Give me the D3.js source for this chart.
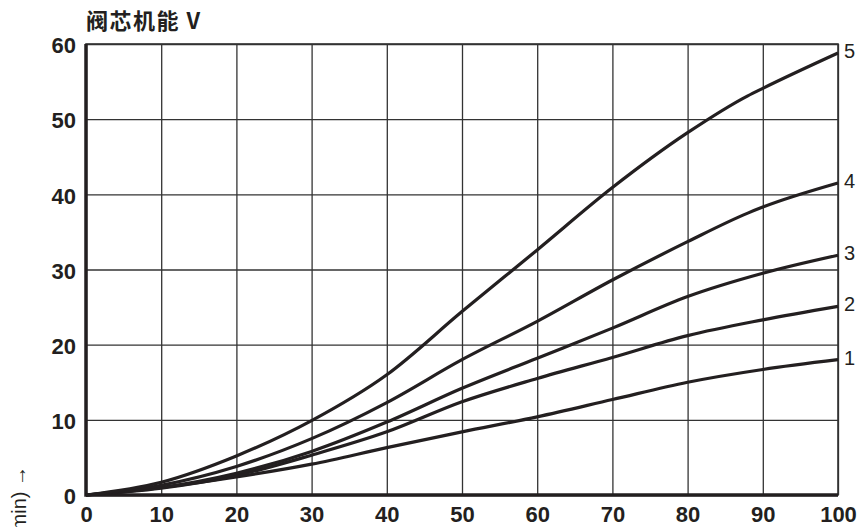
<!DOCTYPE html>
<html lang="zh">

<head>
    <meta charset="UTF-8">
    <title>阀芯机能 V</title>
    <style>
        html, body {
            margin: 0;
            padding: 0;
            background: #fff;
        }

        svg {
            display: block;
        }
    </style>
</head>

<body>
    <div id="workspace"></div>

    <script src="https://cdn.jsdelivr.net/npm/d3@7"></script>
    <script>
        // 刻度
        const xTicks = [0, 10, 20, 30, 40, 50, 60, 70, 80, 90, 100];
        const yTicks = [0, 10, 20, 30, 40, 50, 60];

        // 各曲线的横坐标（4、5 在 88 附近有转折）
        const xBase = [0, 10, 20, 30, 40, 50, 60, 70, 80, 90, 100];
        const xKink = [0, 10, 20, 30, 40, 50, 60, 70, 80, 88, 90, 100];

        // 曲线 1~5 的读数
        const curve1 = [0, 1.0, 2.4, 4.1, 6.3, 8.4, 10.4, 12.7, 15.0, 16.7, 18.0];
        const curve2 = [0, 0.9, 2.6, 5.3, 8.4, 12.4, 15.5, 18.3, 21.2, 23.3, 25.1];
        const curve3 = [0, 1.0, 2.9, 5.8, 9.7, 14.2, 18.2, 22.2, 26.4, 29.5, 31.9];
        const curve4 = [0, 1.3, 3.8, 7.5, 12.3, 18.0, 23.1, 28.6, 33.7, 37.5, 38.3, 41.5];
        const curve5 = [0, 1.7, 5.2, 9.9, 16.0, 24.4, 32.6, 40.9, 48.2, 53.1, 54.1, 58.8];

        const curveNames = ["1", "2", "3", "4", "5"];
        const curveXs = [xBase, xBase, xBase, xKink, xKink];
        const curveYs = [curve1, curve2, curve3, curve4, curve5];

        const title = "阀芯机能 V";
        const yTitle = "流量 (l/min) →";

        const width = 858, height = 527;
        const margin = { top: 44, right: 20, bottom: 32, left: 86 };
        const innerW = 752, innerH = 451;
        const ink = "#231f20";

        const svg = d3.select("#workspace")
            .append("svg")
            .attr("width", width)
            .attr("height", height);

        var x = d3.scaleLinear().domain([0, 100]).range([margin.left, margin.left + innerW]);
        var y = d3.scaleLinear().domain([0, 60]).range([margin.top + innerH, margin.top]);

        // 网格
        svg.append("g")
            .attr("transform", "translate(0," + (margin.top + innerH) + ")")
            .call(d3.axisBottom(x).tickValues(xTicks).tickSize(-innerH).tickFormat(""))
            .call(g => g.select(".domain").remove())
            .selectAll("line")
            .attr("stroke", "#333")
            .attr("stroke-width", 1.3);

        svg.append("g")
            .attr("transform", "translate(" + margin.left + ",0)")
            .call(d3.axisLeft(y).tickValues(yTicks).tickSize(-innerW).tickFormat(""))
            .call(g => g.select(".domain").remove())
            .selectAll("line")
            .attr("stroke", "#333")
            .attr("stroke-width", 1.3);

        // 外框：上、右细线
        svg.append("rect")
            .attr("x", x(0))
            .attr("y", y(60))
            .attr("width", x(100) - x(0))
            .attr("height", y(0) - y(60))
            .attr("fill", "none")
            .attr("stroke", "#333")
            .attr("stroke-width", 1.6);

        // 坐标轴：左、下粗线
        svg.append("path")
            .attr("d", "M" + x(0) + "," + y(60) + "V" + y(0) + "H" + x(100))
            .attr("fill", "none")
            .attr("stroke", ink)
            .attr("stroke-width", 3.5);

        // 刻度标签
        svg.append("g")
            .attr("transform", "translate(0," + y(0) + ")")
            .call(d3.axisBottom(x).tickValues(xTicks).tickSize(0).tickPadding(11))
            .call(g => g.select(".domain").remove())
            .selectAll("text")
            .attr("fill", ink)
            .style("font", "bold 22px 'Liberation Sans', Arial, sans-serif");

        svg.append("g")
            .attr("transform", "translate(" + x(0) + ",0)")
            .call(d3.axisLeft(y).tickValues(yTicks).tickSize(0).tickPadding(10))
            .call(g => g.select(".domain").remove())
            .selectAll("text")
            .attr("dy", "0.4em")
            .attr("fill", ink)
            .style("font", "bold 22px 'Liberation Sans', Arial, sans-serif");

        // 曲线
        var line = d3.line()
            .x(function (d) { return x(d[0]); })
            .y(function (d) { return y(d[1]); })
            .curve(d3.curveMonotoneX);

        curveNames.forEach(function (name, i) {
            var pts = curveXs[i].map(function (v, j) { return [v, curveYs[i][j]]; });
            svg.append("path")
                .datum(pts)
                .attr("d", line)
                .attr("fill", "none")
                .attr("stroke", ink)
                .attr("stroke-width", 3.2)
                .attr("stroke-linejoin", "round");

            var last = pts[pts.length - 1];
            svg.append("text")
                .attr("x", x(last[0]) + 6)
                .attr("y", y(last[1]))
                .attr("dy", "0.24em")
                .attr("fill", ink)
                .style("font", "20px 'Liberation Sans', Arial, sans-serif")
                .text(name);
        });

        // 标题
        svg.append("text")
            .attr("x", x(0))
            .attr("y", 29)
            .attr("fill", ink)
            .style("font", "bold 22px 'Noto Sans CJK SC', sans-serif")
            .style("letter-spacing", "1.5px")
            .style("white-space", "pre")
            .text(title);

        // 纵轴名称（竖排，与原图一样被底边截断）
        svg.append("text")
            .attr("transform", "translate(26,466) rotate(-90)")
            .attr("text-anchor", "end")
            .attr("fill", ink)
            .style("font", "20px 'Liberation Sans', 'DejaVu Sans', sans-serif")
            .text(yTitle);
    </script>
</body>

</html>
